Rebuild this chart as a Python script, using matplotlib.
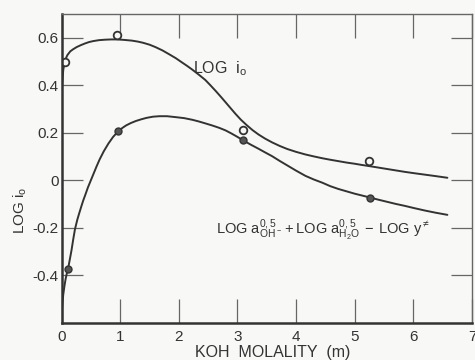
import numpy as np
import matplotlib
matplotlib.use("Agg")
import matplotlib.pyplot as plt

plt.rcParams['font.family'] = ['Liberation Sans', 'DejaVu Sans']
plt.rcParams['mathtext.fontset'] = 'custom'
plt.rcParams['mathtext.rm'] = 'Liberation Sans'

# measured points
molal_open = [0.06, 0.95, 3.09, 5.25]
log_i0_open = [0.50, 0.61, 0.21, 0.08]

molal_filled = [0.11, 0.97, 3.10, 5.26]
log_act_filled = [-0.372, 0.207, 0.169, -0.074]

# traced curve LOG i0
curve1_x = [0.0, 0.01, 0.03, 0.06, 0.1, 0.15, 0.2, 0.26, 0.33, 0.4, 0.47, 0.54,
            0.64, 0.75, 0.85, 0.95, 1.07, 1.2, 1.3, 1.39, 1.5, 1.6, 1.72,
            1.84, 1.95, 2.05, 2.14, 2.23, 2.34, 2.45, 2.54, 2.63, 2.72, 2.8,
            2.89, 2.97, 3.06, 3.16, 3.26, 3.36, 3.47, 3.59, 3.72, 3.85, 4.0,
            4.16, 4.3, 4.45, 4.58, 4.72, 4.86, 5.0, 5.12, 5.25, 5.4, 5.55,
            5.7, 5.85, 6.02, 6.2, 6.38, 6.58]
curve1_y = [0.33, 0.40, 0.465, 0.505, 0.527, 0.543, 0.552, 0.561, 0.569,
            0.576, 0.582, 0.586, 0.590, 0.592, 0.593, 0.593, 0.591, 0.588,
            0.584, 0.579, 0.571, 0.561, 0.547, 0.530, 0.514, 0.497, 0.482,
            0.466, 0.445, 0.423, 0.400, 0.376, 0.351, 0.328, 0.302, 0.279,
            0.255, 0.232, 0.211, 0.193, 0.176, 0.160, 0.145, 0.132, 0.120,
            0.109, 0.101, 0.093, 0.087, 0.081, 0.075, 0.070, 0.065, 0.060,
            0.054, 0.048, 0.042, 0.036, 0.030, 0.024, 0.018, 0.011]

# traced curve activities
curve2_x = [0.0, 0.015, 0.03, 0.05, 0.07, 0.09, 0.115, 0.14, 0.17, 0.2, 0.23,
            0.27, 0.3, 0.34, 0.37, 0.41, 0.45, 0.5, 0.55, 0.6, 0.65, 0.72,
            0.8, 0.88, 0.97, 1.04, 1.1, 1.18, 1.27, 1.36, 1.45, 1.56, 1.67,
            1.8, 1.95, 2.09, 2.23, 2.34, 2.45, 2.57, 2.69, 2.8, 2.9, 3.0, 3.10,
            3.23, 3.36, 3.47, 3.59, 3.72, 3.85, 4.0, 4.16, 4.3, 4.45, 4.58,
            4.72, 4.86, 5.0, 5.13, 5.26, 5.4, 5.55, 5.7, 5.85, 6.02, 6.2,
            6.38, 6.58]
curve2_y = [-0.57, -0.52, -0.48, -0.445, -0.415, -0.392, -0.368, -0.335,
            -0.295, -0.248, -0.205, -0.165, -0.14, -0.108, -0.085, -0.058,
            -0.03, 0.0, 0.03, 0.06, 0.088, 0.122, 0.155, 0.183, 0.207, 0.221,
            0.231, 0.241, 0.250, 0.257, 0.263, 0.268, 0.270, 0.270, 0.266,
            0.262, 0.255, 0.248, 0.240, 0.231, 0.221, 0.210, 0.197, 0.183,
            0.168, 0.150, 0.133, 0.118, 0.102, 0.082, 0.063, 0.041, 0.019,
            0.004, -0.010, -0.024, -0.036, -0.046, -0.056, -0.064, -0.072,
            -0.081, -0.090, -0.099, -0.107, -0.117, -0.127, -0.136, -0.145]

x_ticks = [0, 1, 2, 3, 4, 5, 6, 7]
y_ticks = [-0.4, -0.2, 0, 0.2, 0.4, 0.6]
y_tick_labels = ["-0.4", "-0.2", "0", "0.2", "0.4", "0.6"]

bg = "#f8f8f6"
ink = "#333333"

fig = plt.figure(figsize=(4.75, 3.6), dpi=100, facecolor=bg)
ax = fig.add_axes([61.5 / 475, 37 / 360, (472 - 61.5) / 475, (323 - 14) / 360])
ax.set_facecolor(bg)

ax.plot(curve1_x, curve1_y, color=ink, lw=1.4, solid_capstyle="round",
        solid_joinstyle="round")
ax.plot(curve2_x, curve2_y, color=ink, lw=1.4, solid_capstyle="round",
        solid_joinstyle="round")

ax.plot(molal_open, log_i0_open, linestyle="none", marker="o", ms=5.5,
        mfc=bg, mec=ink, mew=1.3)
ax.plot(molal_filled, log_act_filled, linestyle="none", marker="o", ms=5,
        mfc="#555555", mec=ink, mew=1.0)

ax.set_xlim(0, 7)
ax.set_ylim(-0.6, 0.7)
ax.set_xticks(x_ticks)
ax.set_yticks(y_ticks)
ax.set_yticklabels(y_tick_labels)

ax.tick_params(axis="x", direction="in", length=17, width=0.9, color="#666666",
               top=True, labelsize=11, pad=5, labelcolor=ink)
ax.tick_params(axis="y", direction="in", length=15, width=0.9, color="#666666",
               right=True, labelsize=11, pad=2, labelcolor=ink)

for side in ["left", "bottom"]:
    ax.spines[side].set_linewidth(1.8)
    ax.spines[side].set_color(ink)
for side in ["top", "right"]:
    ax.spines[side].set_linewidth(1.0)
    ax.spines[side].set_color("#666666")

ax.text(2.25, 0.47, r"LOG  i$_\mathregular{o}$", fontsize=11.5, color=ink,
        ha="left", va="center")
ax.text(2.63, -0.21,
        r"LOG a$^{\mathregular{0,5}}_{\mathregular{OH^-}}$"
        r"$\,$+$\,$LOG a$^{\mathregular{0,5}}_{\mathregular{H_2O}}$"
        r"$\,-\,$LOG y$^{\neq}$",
        fontsize=10.5, color=ink, ha="left", va="center")

fig.text(20 / 475, 1 - 210 / 360, r"LOG i$_\mathregular{o}$", rotation=90,
         fontsize=11, color=ink, ha="center", va="center")
fig.text(273 / 475, 1 - 352 / 360, "KOH  MOLALITY  (m)", fontsize=11.5,
         color=ink, ha="center", va="center")

fig.savefig("out.png", dpi=100, facecolor=bg)
